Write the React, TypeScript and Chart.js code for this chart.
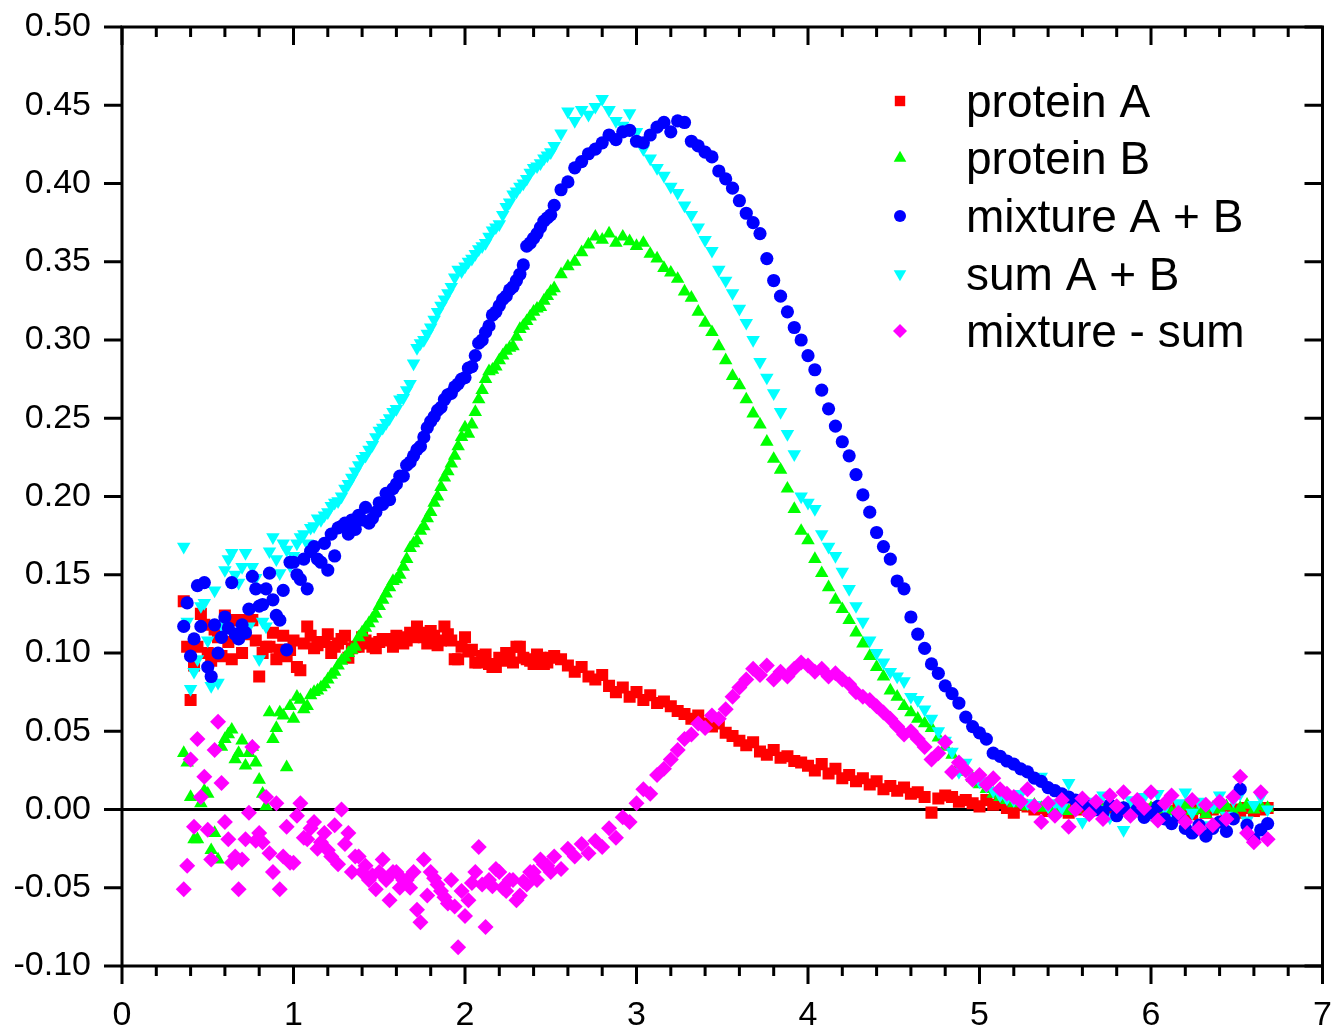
import React, { useEffect, useRef } from 'react';
import { Chart, registerables } from 'chart.js';

Chart.register(...registerables);

// ---------- data ----------
const xValues = [
  0.36, 0.40, 0.44, 0.48, 0.52, 0.56, 0.60, 0.64, 0.68, 0.72,
  0.76, 0.80, 0.84, 0.88, 0.92, 0.96, 1.00, 1.04, 1.08, 1.12,
  1.16, 1.20, 1.24, 1.28, 1.32, 1.36, 1.40, 1.44, 1.48, 1.52,
  1.56, 1.60, 1.64, 1.68, 1.72, 1.76, 1.80, 1.84, 1.88, 1.92,
  1.96, 2.00, 2.04, 2.08, 2.12, 2.16, 2.20, 2.24, 2.28, 2.32,
  2.36, 2.40, 2.44, 2.48, 2.52, 2.56, 2.60, 2.64, 2.68, 2.72,
  2.76, 2.80, 2.84, 2.88, 2.92, 2.96, 3.00, 3.04, 3.08, 3.12,
  3.16, 3.20, 3.24, 3.28, 3.32, 3.36, 3.40, 3.44, 3.48, 3.52,
  3.56, 3.60, 3.64, 3.68, 3.72, 3.76, 3.80, 3.84, 3.88, 3.92,
  3.96, 4.00, 4.04, 4.08, 4.12, 4.16, 4.20, 4.24, 4.28, 4.32,
  4.36, 4.40, 4.44, 4.48, 4.52, 4.56, 4.60, 4.64, 4.68, 4.72,
  4.76, 4.80, 4.84, 4.88, 4.92, 4.96, 5.00, 5.04, 5.08, 5.12,
  5.16, 5.20, 5.24, 5.28, 5.32, 5.36, 5.40, 5.44, 5.48, 5.52,
  5.56, 5.60, 5.64, 5.68, 5.72, 5.76, 5.80, 5.84, 5.88, 5.92,
  5.96, 6.00, 6.04, 6.08, 6.12, 6.16, 6.20, 6.24, 6.28, 6.32,
  6.36, 6.40, 6.44, 6.48, 6.52, 6.56, 6.60, 6.64, 6.68,
];

const proteinA = [
  0.133, 0.070, 0.104, 0.118, 0.095, 0.110, 0.124, 0.096, 0.121, 0.112,
  0.121, 0.085, 0.104, 0.113, 0.102, 0.098, 0.108, 0.089, 0.117, 0.103,
  0.107, 0.112, 0.104, 0.109, 0.097, 0.104, 0.110, 0.106, 0.103, 0.109,
  0.108, 0.111, 0.106, 0.113, 0.117, 0.110, 0.114, 0.105, 0.117, 0.108,
  0.096, 0.110, 0.102, 0.094, 0.099, 0.091, 0.097, 0.100, 0.094, 0.104,
  0.096, 0.093, 0.097, 0.094, 0.098, 0.096, 0.092, 0.088, 0.091, 0.085,
  0.083, 0.086, 0.079, 0.075, 0.078, 0.072, 0.075, 0.070, 0.073, 0.068,
  0.069, 0.066, 0.063, 0.061, 0.058, 0.060, 0.055, 0.053, 0.055, 0.049,
  0.047, 0.044, 0.041, 0.043, 0.037, 0.035, 0.038, 0.033, 0.034, 0.031,
  0.030, 0.028, 0.025, 0.029, 0.023, 0.026, 0.020, 0.022, 0.018, 0.020,
  0.016, 0.018, 0.013, 0.015, 0.012, 0.014, 0.010, 0.011, 0.008, -0.002,
  0.007, 0.009, 0.008, 0.005, 0.006, 0.004, 0.002, 0.006, 0.003, 0.004,
  0.001, -0.002, 0.003, 0.002, 0.000, 0.001, -0.001, 0.002, 0.000, -0.002,
  0.001, 0.000, -0.001, 0.002, 0.000, -0.002, 0.001, 0.000, -0.001, 0.001,
  0.000, -0.002, 0.001, 0.000, -0.001, 0.002, 0.000, -0.003, 0.001, -0.002,
  0.000, 0.002, -0.001, 0.000, -0.002, 0.001, -0.001, 0.000, 0.001,
];

const proteinB = [
  0.036, 0.008, -0.019, 0.012, -0.026, -0.032, 0.045, 0.051, 0.036, 0.028,
  0.040, 0.019, 0.002, 0.045, 0.062, 0.027, 0.058, 0.070, 0.066, 0.075,
  0.078, 0.083, 0.088, 0.095, 0.100, 0.104, 0.113, 0.119, 0.125, 0.134,
  0.142, 0.147, 0.155, 0.167, 0.172, 0.181, 0.190, 0.200, 0.212, 0.221,
  0.232, 0.244, 0.246, 0.262, 0.275, 0.281, 0.287, 0.293, 0.296, 0.307,
  0.312, 0.318, 0.321, 0.328, 0.333, 0.342, 0.347, 0.350, 0.356, 0.361,
  0.366, 0.364, 0.368, 0.362, 0.366, 0.363, 0.360, 0.362, 0.355, 0.352,
  0.346, 0.343, 0.339, 0.331, 0.327, 0.318, 0.311, 0.305, 0.296, 0.287,
  0.277, 0.271, 0.262, 0.253, 0.246, 0.235, 0.224, 0.217, 0.205, 0.192,
  0.178, 0.172, 0.160, 0.151, 0.142, 0.134, 0.128, 0.121, 0.113, 0.106,
  0.098, 0.091, 0.085, 0.076, 0.072, 0.066, 0.062, 0.058, 0.055, 0.052,
  0.046, 0.040, 0.035, 0.028, 0.024, 0.020, 0.016, 0.013, 0.010, 0.008,
  0.006, 0.004, 0.005, 0.002, 0.003, 0.001, 0.002, 0.000, 0.001, -0.001,
  0.000, 0.002, -0.001, 0.001, 0.000, 0.003, -0.002, 0.001, 0.000, 0.002,
  -0.001, 0.001, 0.003, 0.000, -0.002, 0.001, 0.002, -0.001, 0.000, -0.003,
  0.001, 0.000, 0.002, -0.002, 0.001, 0.003, 0.000, 0.002, 0.001,
];

const mixtureAB = [
  0.117, 0.098, 0.143, 0.145, 0.085, 0.100, 0.123, 0.145, 0.109, 0.113,
  0.149, 0.130, 0.141, 0.134, 0.121, 0.102, 0.158, 0.147, 0.141, 0.168,
  0.158, 0.153, 0.162, 0.181, 0.176, 0.179, 0.185, 0.183, 0.190, 0.195,
  0.198, 0.208, 0.213, 0.222, 0.230, 0.238, 0.248, 0.255, 0.262, 0.266,
  0.272, 0.276, 0.283, 0.298, 0.305, 0.316, 0.322, 0.328, 0.334, 0.342,
  0.360, 0.365, 0.372, 0.378, 0.386, 0.396, 0.401, 0.410, 0.414, 0.419,
  0.422, 0.426, 0.431, 0.428, 0.433, 0.434, 0.427, 0.426, 0.431, 0.436,
  0.439, 0.433, 0.440, 0.439, 0.427, 0.424, 0.420, 0.417, 0.408, 0.403,
  0.397, 0.389, 0.381, 0.375, 0.368, 0.352, 0.338, 0.328, 0.318, 0.308,
  0.300, 0.290, 0.281, 0.268, 0.256, 0.245, 0.235, 0.226, 0.214, 0.201,
  0.190, 0.177, 0.168, 0.160, 0.146, 0.141, 0.123, 0.112, 0.103, 0.093,
  0.087, 0.079, 0.074, 0.068, 0.059, 0.053, 0.049, 0.045, 0.036, 0.034,
  0.031, 0.029, 0.026, 0.024, 0.020, 0.018, 0.014, 0.012, 0.010, 0.008,
  0.006, 0.004, 0.002, 0.000, -0.002, 0.003, -0.004, 0.001, -0.003, 0.000,
  -0.005, -0.002, 0.002, -0.006, -0.009, -0.004, -0.012, -0.015, -0.010, -0.017,
  -0.012, -0.008, -0.014, -0.006, 0.013, -0.010, -0.019, -0.013, -0.009,
];

const sumAB = [
  0.168, 0.077, 0.096, 0.132, 0.079, 0.081, 0.153, 0.164, 0.145, 0.164,
  0.155, 0.096, 0.117, 0.174, 0.151, 0.166, 0.162, 0.174, 0.170, 0.181,
  0.185, 0.190, 0.196, 0.200, 0.208, 0.216, 0.224, 0.230, 0.238, 0.244,
  0.250, 0.256, 0.263, 0.272, 0.295, 0.300, 0.308, 0.318, 0.326, 0.334,
  0.345, 0.347, 0.352, 0.358, 0.362, 0.370, 0.374, 0.385, 0.393, 0.398,
  0.403, 0.410, 0.413, 0.418, 0.424, 0.432, 0.446, 0.440, 0.447, 0.444,
  0.449, 0.454, 0.447, 0.440, 0.437, 0.445, 0.433, 0.422, 0.416, 0.410,
  0.405, 0.398, 0.394, 0.386, 0.380, 0.372, 0.364, 0.357, 0.345, 0.338,
  0.330, 0.320, 0.311, 0.300, 0.286, 0.276, 0.266, 0.254, 0.240, 0.227,
  0.200, 0.196, 0.192, 0.176, 0.168, 0.162, 0.152, 0.141, 0.130, 0.120,
  0.108, 0.100, 0.094, 0.088, 0.085, 0.082, 0.072, 0.070, 0.064, 0.058,
  0.050, 0.044, 0.037, 0.024, 0.030, 0.021, 0.018, 0.015, 0.012, 0.009,
  0.007, 0.006, 0.010, 0.004, 0.003, 0.021, 0.002, 0.004, 0.001, 0.017,
  0.003, -0.008, 0.005, 0.000, 0.009, -0.005, 0.002, -0.013, 0.006, 0.001,
  0.008, -0.003, 0.010, 0.001, -0.006, 0.004, 0.011, -0.002, 0.005, -0.010,
  0.002, 0.009, -0.004, 0.006, 0.010, -0.007, 0.003, 0.008, 0.000,
];

const mixtureMinusSum = [
  -0.051, 0.032, 0.045, 0.021, -0.032, 0.056, -0.008, -0.034, -0.051, -0.019,
  0.040, -0.015, 0.008, -0.040, -0.051, -0.011, -0.034, 0.004, -0.019, -0.008,
  -0.021, -0.026, -0.010, 0.000, -0.015, -0.030, -0.040, -0.045, -0.051, -0.032,
  -0.058, -0.040, -0.045, -0.050, -0.064, -0.032, -0.040, -0.048, -0.056, -0.045,
  -0.088, -0.068, -0.047, -0.024, -0.075, -0.049, -0.040, -0.052, -0.045, -0.055,
  -0.048, -0.040, -0.032, -0.036, -0.030, -0.038, -0.025, -0.030, -0.022, -0.028,
  -0.020, -0.024, -0.012, -0.018, -0.005, -0.008, 0.004, 0.013, 0.010, 0.022,
  0.026, 0.032, 0.038, 0.045, 0.048, 0.055, 0.052, 0.060, 0.058, 0.064,
  0.072, 0.078, 0.083, 0.090, 0.086, 0.092, 0.083, 0.088, 0.085, 0.090,
  0.094, 0.092, 0.088, 0.090, 0.085, 0.087, 0.083, 0.080, 0.075, 0.072,
  0.070, 0.066, 0.062, 0.058, 0.053, 0.048, 0.050, 0.045, 0.040, 0.032,
  0.036, 0.043, 0.024, 0.030, 0.025, 0.019, 0.022, 0.016, 0.020, 0.013,
  0.010, 0.008, 0.005, 0.013, 0.002, -0.008, 0.004, -0.004, 0.006, -0.011,
  0.000, 0.007, -0.003, 0.005, -0.006, 0.009, 0.002, 0.011, -0.004, 0.006,
  0.001, 0.011, -0.007, 0.004, 0.009, -0.002, -0.008, 0.006, -0.012, 0.003,
  -0.010, 0.005, -0.006, 0.008, 0.021, -0.015, -0.021, 0.011, -0.019,
];

// extra readings between the main samples in the noisy start of the run
const xValuesExtra = [
  0.38, 0.42, 0.46, 0.50, 0.54, 0.58, 0.62, 0.66, 0.70, 0.74,
  0.78, 0.82, 0.86, 0.90, 0.94, 0.98, 1.02, 1.06, 1.10, 1.14,
  1.18, 1.22, 1.26, 1.30, 1.34, 1.38, 1.42, 1.46, 1.50, 1.54,
  1.58, 1.62, 1.66, 1.70, 1.74, 1.78, 1.82, 1.86, 1.90, 1.94,
  1.98, 2.02, 2.06, 2.10, 2.14, 2.18, 2.22, 2.26, 2.30, 2.34,
  2.38, 2.42, 2.46, 2.50,
];

const proteinAExtra = [
  0.104, 0.092, 0.125, 0.100, 0.115, 0.098, 0.107, 0.121, 0.100, 0.121,
  0.108, 0.100, 0.104, 0.096, 0.111, 0.102, 0.091, 0.106, 0.111, 0.105,
  0.107, 0.100, 0.106, 0.111, 0.103, 0.104, 0.108, 0.104, 0.107, 0.109,
  0.104, 0.110, 0.108, 0.110, 0.113, 0.106, 0.111, 0.108, 0.112, 0.096,
  0.104, 0.101, 0.094, 0.098, 0.093, 0.091, 0.095, 0.099, 0.104, 0.097,
  0.095, 0.099, 0.093, 0.097,
];

const proteinBExtra = [
  0.030, -0.019, 0.004, 0.010, -0.015, 0.040, 0.048, 0.032, 0.044, 0.036,
  0.030, 0.010, 0.062, 0.052, 0.060, 0.066, 0.072, 0.064, 0.073, 0.076,
  0.080, 0.086, 0.092, 0.097, 0.102, 0.110, 0.116, 0.122, 0.130, 0.138,
  0.146, 0.150, 0.160, 0.170, 0.178, 0.186, 0.196, 0.206, 0.216, 0.226,
  0.238, 0.240, 0.254, 0.268, 0.280, 0.283, 0.290, 0.295, 0.302, 0.309,
  0.315, 0.320, 0.325, 0.331,
];

const mixtureABExtra = [
  0.132, 0.109, 0.117, 0.091, 0.118, 0.110, 0.116, 0.112, 0.118, 0.128,
  0.141, 0.131, 0.151, 0.124, 0.140, 0.158, 0.150, 0.160, 0.165, 0.160,
  0.170, 0.176, 0.180, 0.183, 0.185, 0.188, 0.193, 0.186, 0.196, 0.202,
  0.205, 0.213, 0.220, 0.226, 0.232, 0.244, 0.251, 0.257, 0.265, 0.270,
  0.275, 0.282, 0.290, 0.300, 0.309, 0.318, 0.326, 0.332, 0.338, 0.348,
  0.362, 0.368, 0.376, 0.380,
];

const sumABExtra = [
  0.120, 0.088, 0.130, 0.108, 0.140, 0.118, 0.160, 0.150, 0.155, 0.117,
  0.148, 0.120, 0.165, 0.160, 0.170, 0.156, 0.170, 0.176, 0.180, 0.186,
  0.188, 0.194, 0.197, 0.205, 0.212, 0.220, 0.226, 0.233, 0.242, 0.247,
  0.254, 0.262, 0.268, 0.285, 0.298, 0.304, 0.313, 0.322, 0.330, 0.340,
  0.344, 0.350, 0.355, 0.360, 0.366, 0.372, 0.380, 0.388, 0.395, 0.400,
  0.407, 0.411, 0.416, 0.420,
];

const mixtureMinusSumExtra = [
  -0.036, -0.011, 0.008, -0.013, 0.038, 0.017, -0.019, -0.030, -0.032, -0.002,
  -0.020, -0.021, -0.028, 0.004, -0.030, -0.034, -0.004, -0.018, -0.012, -0.025,
  -0.015, -0.030, -0.035, -0.022, -0.040, -0.030, -0.036, -0.042, -0.040, -0.045,
  -0.040, -0.050, -0.045, -0.040, -0.072, -0.055, -0.044, -0.052, -0.060, -0.062,
  -0.052, -0.058, -0.040, -0.048, -0.045, -0.038, -0.050, -0.045, -0.058, -0.046,
  -0.040, -0.045, -0.035, -0.040,
];

const seriesNames = ['protein A', 'protein B', 'mixture A + B', 'sum A + B', 'mixture - sum'];
const seriesValues = [proteinA, proteinB, mixtureAB, sumAB, mixtureMinusSum];
const seriesExtraValues = [proteinAExtra, proteinBExtra, mixtureABExtra, sumABExtra, mixtureMinusSumExtra];
const seriesColors = ['#ff0000', '#00ff00', '#0000ff', '#00ffff', '#ff00ff'];
const seriesShapes = ['square', 'triangleUp', 'circle', 'triangleDown', 'diamond'];

const xTickValues = [0, 1, 2, 3, 4, 5, 6, 7];
const xMinorStep = 0.2;
const yTickValues = [-0.1, -0.05, 0, 0.05, 0.1, 0.15, 0.2, 0.25, 0.3, 0.35, 0.4, 0.45, 0.5];

// ---------- drawing helpers ----------
const FONT = '"Liberation Sans", Arial, Helvetica, sans-serif';

function markerPath(ctx: CanvasRenderingContext2D, shape: string, x: number, y: number) {
  ctx.beginPath();
  if (shape === 'square') {
    const s = 5.2;
    ctx.rect(x - s, y - s, 2 * s, 2 * s);
  } else if (shape === 'circle') {
    ctx.arc(x, y, 6, 0, Math.PI * 2);
  } else if (shape === 'triangleUp') {
    const r = 7.3;
    ctx.moveTo(x, y - r);
    ctx.lineTo(x + r * 0.866, y + r * 0.5);
    ctx.lineTo(x - r * 0.866, y + r * 0.5);
    ctx.closePath();
  } else if (shape === 'triangleDown') {
    const r = 7.3;
    ctx.moveTo(x, y + r);
    ctx.lineTo(x + r * 0.866, y - r * 0.5);
    ctx.lineTo(x - r * 0.866, y - r * 0.5);
    ctx.closePath();
  } else {
    const r = 7;
    ctx.moveTo(x, y - r);
    ctx.lineTo(x + r, y);
    ctx.lineTo(x, y + r);
    ctx.lineTo(x - r, y);
    ctx.closePath();
  }
}

const framePlugin = {
  id: 'originFrame',
  beforeDatasetsDraw(chart: any) {
    const { ctx, chartArea } = chart;
    const yScale = chart.scales.y;
    const y0 = yScale.getPixelForValue(0);
    ctx.save();
    ctx.strokeStyle = '#000';
    ctx.lineWidth = 3;
    ctx.beginPath();
    ctx.moveTo(chartArea.left, y0);
    ctx.lineTo(chartArea.right, y0);
    ctx.stroke();
    ctx.restore();
  },
  afterDraw(chart: any) {
    const { ctx, chartArea } = chart;
    const xScale = chart.scales.x;
    const yScale = chart.scales.y;
    const { left, right, top, bottom } = chartArea;
    ctx.save();
    ctx.strokeStyle = '#000';
    ctx.lineWidth = 3;
    ctx.lineCap = 'butt';
    ctx.beginPath();
    ctx.rect(left, top, right - left, bottom - top);
    ctx.stroke();

    const major = 18;
    const minor = 10;
    ctx.beginPath();
    const nMinor = Math.round((xTickValues[xTickValues.length - 1] - xTickValues[0]) / xMinorStep);
    for (let i = 0; i <= nMinor; i++) {
      const v = xTickValues[0] + i * xMinorStep;
      const px = xScale.getPixelForValue(v);
      const isMajor = i % 5 === 0;
      const len = isMajor ? major : minor;
      ctx.moveTo(px, bottom);
      ctx.lineTo(px, bottom + len);
      ctx.moveTo(px, top);
      ctx.lineTo(px, top + len);
    }
    for (const v of yTickValues) {
      const py = yScale.getPixelForValue(v);
      ctx.moveTo(left, py);
      ctx.lineTo(left - major, py);
      ctx.moveTo(right, py);
      ctx.lineTo(right - major, py);
    }
    ctx.stroke();

    // legend
    const lx = 900;
    const tx = 966;
    const rowY = [101, 158, 216, 274, 331];
    ctx.font = `46px ${FONT}`;
    ctx.textBaseline = 'alphabetic';
    ctx.textAlign = 'left';
    for (let i = 0; i < seriesNames.length; i++) {
      ctx.fillStyle = seriesColors[i];
      markerPath(ctx, seriesShapes[i], lx, rowY[i]);
      ctx.fill();
      ctx.fillStyle = '#000';
      ctx.fillText(seriesNames[i], tx, rowY[i] + 16);
    }
    ctx.restore();
  },
};

const pointStyles: Record<string, any> = {
  square: { pointStyle: 'rect', radius: 8.5, rotation: 0 },
  triangleUp: { pointStyle: 'triangle', radius: 7.8, rotation: 0 },
  circle: { pointStyle: 'circle', radius: 6.6, rotation: 0 },
  triangleDown: { pointStyle: 'triangle', radius: 7.8, rotation: 180 },
  diamond: { pointStyle: 'rectRot', radius: 8, rotation: 0 },
};
const drawOrder = [4, 3, 1, 2, 0];

function zeroPadding(scale: any) {
  scale.paddingTop = 0;
  scale.paddingBottom = 0;
  scale.paddingLeft = 0;
  scale.paddingRight = 0;
}

export default function App() {
  const canvasRef = useRef<HTMLCanvasElement | null>(null);

  useEffect(() => {
    const canvas = canvasRef.current;
    if (!canvas) return;
    const datasets = seriesNames.map((name, i) => {
      const ps = pointStyles[seriesShapes[i]];
      const main = xValues.map((x, k) => ({ x, y: seriesValues[i][k] }));
      const extra = xValuesExtra.map((x, k) => ({ x, y: seriesExtraValues[i][k] }));
      return {
        label: name,
        data: main.concat(extra).sort((a, b) => a.x - b.x),
        showLine: false,
        pointStyle: ps.pointStyle,
        pointRadius: ps.radius,
        pointRotation: ps.rotation,
        pointBackgroundColor: seriesColors[i],
        pointBorderColor: seriesColors[i],
        pointBorderWidth: 0,
        backgroundColor: seriesColors[i],
        borderColor: seriesColors[i],
        order: drawOrder[i],
      };
    });

    const chart = new Chart(canvas, {
      type: 'scatter',
      data: { datasets },
      options: {
        animation: false,
        responsive: false,
        events: [],
        layout: { padding: { top: 27, right: 5, left: 0, bottom: 0 } },
        plugins: {
          legend: { display: false },
          tooltip: { enabled: false },
          title: { display: false },
        },
        scales: {
          x: {
            type: 'linear',
            min: 0,
            max: 7,
            afterFit: (scale: any) => {
              scale.height = 64;
              zeroPadding(scale);
            },
            afterBuildTicks: (scale: any) => {
              scale.ticks = xTickValues.map((v) => ({ value: v }));
            },
            grid: { display: false, drawTicks: false },
            border: { display: false },
            ticks: {
              color: '#000',
              padding: 29,
              maxRotation: 0,
              font: { family: FONT, size: 34 },
              callback: (v: any) => String(v),
            },
          },
          y: {
            type: 'linear',
            min: -0.1,
            max: 0.5,
            afterFit: (scale: any) => {
              scale.width = 122;
              zeroPadding(scale);
            },
            afterBuildTicks: (scale: any) => {
              scale.ticks = yTickValues.map((v) => ({ value: v }));
            },
            grid: { display: false, drawTicks: false },
            border: { display: false },
            ticks: {
              color: '#000',
              padding: 31,
              font: { family: FONT, size: 34 },
              callback: (v: any) => Number(v).toFixed(2),
            },
          },
        },
      },
      plugins: [framePlugin],
    } as any);

    return () => {
      chart.destroy();
    };
  }, []);

  return (
    <div style={{ position: 'fixed', left: 0, top: 0, width: 1331, height: 1030, background: '#fff' }}>
      <canvas ref={canvasRef} width={1331} height={1030} style={{ display: 'block', width: 1331, height: 1030 }} />
    </div>
  );
}
